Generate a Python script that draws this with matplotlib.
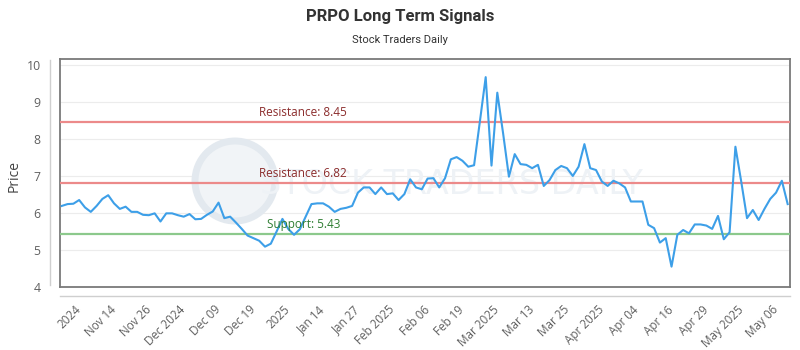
import matplotlib
matplotlib.use("Agg")
import matplotlib.pyplot as plt
from matplotlib.lines import Line2D
from matplotlib.patches import Ellipse
import numpy as np

title = "PRPO Long Term Signals"
subtitle = "Stock Traders Daily"

prices = [
    6.19, 6.24, 6.25, 6.35, 6.15, 6.03, 6.19, 6.38, 6.48, 6.26,
    6.11, 6.17, 6.03, 6.03, 5.95, 5.94, 5.99, 5.77, 5.99, 5.99,
    5.94, 5.90, 5.97, 5.83, 5.84, 5.95, 6.04, 6.28, 5.86, 5.90,
    5.74, 5.57, 5.39, 5.32, 5.25, 5.09, 5.17, 5.50, 5.84, 5.57,
    5.41, 5.56, 5.90, 6.24, 6.26, 6.26, 6.17, 6.03, 6.11, 6.14,
    6.19, 6.55, 6.69, 6.69, 6.51, 6.69, 6.51, 6.53, 6.35, 6.51,
    6.91, 6.69, 6.64, 6.93, 6.94, 6.69, 6.94, 7.45, 7.51, 7.41,
    7.25, 7.29, 8.47, 9.67, 7.28, 9.25, 8.15, 6.98, 7.59, 7.32,
    7.30, 7.21, 7.30, 6.73, 6.89, 7.16, 7.27, 7.21, 7.00, 7.25,
    7.86, 7.21, 7.16, 6.85, 6.73, 6.87, 6.80, 6.69, 6.31, 6.31,
    6.31, 5.68, 5.59, 5.20, 5.32, 4.55, 5.41, 5.54, 5.45, 5.69,
    5.69, 5.66, 5.57, 5.92, 5.29, 5.48, 7.79, 6.85, 5.86, 6.08,
    5.81, 6.11, 6.38, 6.55, 6.87, 6.24,
]

tick_labels = ["2024", "Nov 14", "Nov 26", "Dec 2024", "Dec 09", "Dec 19",
               "2025", "Jan 14", "Jan 27", "Feb 2025", "Feb 06", "Feb 19",
               "Mar 2025", "Mar 13", "Mar 25", "Apr 2025", "Apr 04", "Apr 16",
               "Apr 29", "May 2025", "May 06"]

resistance_levels = [8.45, 6.82]
support_levels = [5.43]

W, H = 800, 350
fig = plt.figure(figsize=(8, 3.5), dpi=100)
fig.patch.set_facecolor("white")

L, R, T, B = 60, 790, 59, 287
ax = fig.add_axes([L / W, 1 - B / H, (R - L) / W, (B - T) / H])

x = np.arange(len(prices))
ax.plot(x, prices, color="#3d9fe8", lw=1.5, zorder=4)

ax.set_xlim(-0.3, 125.4)
ax.set_ylim(4, 10.16)

ax.set_yticks([4, 5, 6, 7, 8, 9, 10])
ax.grid(axis="y", color="#ececec", lw=0.8, zorder=0)
ax.set_axisbelow(True)

for s in ax.spines.values():
    s.set_color("#7a7a7a")
    s.set_linewidth(1.3)

ax.tick_params(axis="both", length=0, colors="#606060", labelsize=8.8)
ax.tick_params(axis="y", pad=14)
for lab in ax.get_yticklabels():
    lab.set_fontfamily("Open Sans")

tick_pos = np.arange(3, 3 + 6 * len(tick_labels), 6)
ax.set_xticks(tick_pos)
ax.set_xticklabels(tick_labels, rotation=45, ha="right", va="center",
                   rotation_mode="anchor", fontfamily="Open Sans", fontsize=8.4,
                   color="#606060")
ax.tick_params(axis="x", pad=15)

for lvl in resistance_levels:
    ax.axhline(lvl, color="#ec8a8a", lw=1.6, zorder=3)
    ax.text(34, lvl + 0.08, f"Resistance: {lvl:.2f}", color="#8b2c2c",
            fontsize=8.5, fontfamily="Open Sans", va="bottom", ha="left", zorder=5)
for lvl in support_levels:
    ax.axhline(lvl, color="#8cc98c", lw=1.6, zorder=3)
    ax.text(35.4, lvl + 0.08, f"Support: {lvl:.2f}", color="#2e7d32",
            fontsize=8.5, fontfamily="Open Sans", va="bottom", ha="left", zorder=5)

# watermark
ax.add_patch(Ellipse((235 / W, 1 - 181 / H), 80 / W, 80 / H, transform=fig.transFigure,
                     facecolor="#f1f4f7", edgecolor="#e3e9ef", lw=5, zorder=1))
ax.text(451 / W, 1 - 184 / H, "STOCK TRADERS DAILY", transform=fig.transFigure,
        fontsize=24, color="#eef2f6", ha="center", va="center",
        fontfamily="DejaVu Sans", zorder=1)

# offset axis lines
fig.add_artist(Line2D([50 / W, 50 / W], [1 - 60 / H, 1 - 285 / H],
                      color="#cfcfcf", lw=1, transform=fig.transFigure))
fig.add_artist(Line2D([60 / W, 790 / W], [1 - 296 / H, 1 - 296 / H],
                      color="#cfcfcf", lw=1, transform=fig.transFigure))

ax.set_ylabel("Price", fontsize=10, color="#444444", fontfamily="Open Sans")
ax.yaxis.set_label_coords(22 / W, 1 - 176 / H, transform=fig.transFigure)

fig.text(0.5, 1 - 16 / H, title, ha="center", va="center", fontsize=12,
         fontweight="bold", color="#333333", fontfamily="Roboto")
fig.text(0.5, 1 - 40 / H, subtitle, ha="center", va="center", fontsize=8,
         color="#333333", fontfamily="Roboto")

fig.savefig("out.png", dpi=100, facecolor="white")
